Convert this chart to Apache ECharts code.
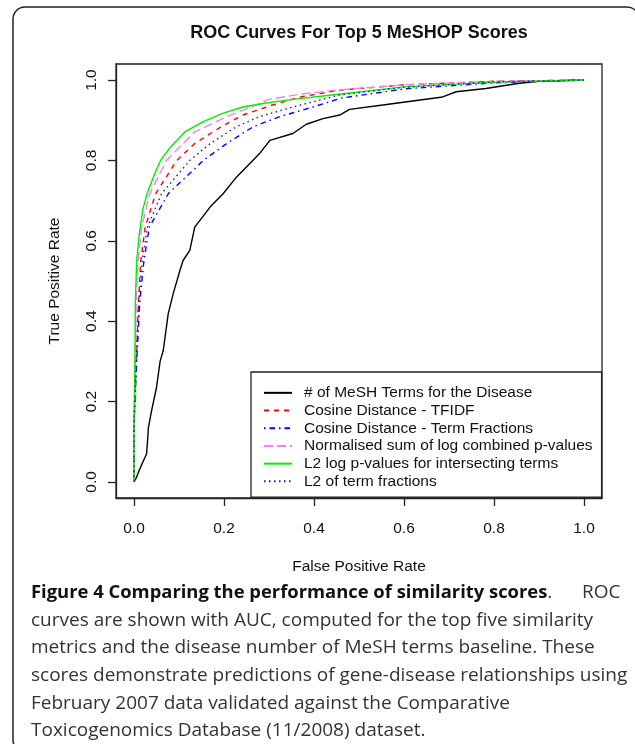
<!DOCTYPE html>
<html>
<head>
<meta charset="utf-8">
<script src="https://cdn.jsdelivr.net/npm/echarts@6.0.0/dist/echarts.min.js"></script>
<style>
  html, body { margin: 0; padding: 0; background: #fff; }
  #chart { width: 635px; height: 744px; }
</style>
</head>
<body>
<div id="chart"></div>
<script>
// ROC points: [false positive rate, true positive rate]
const meshTerms = [[0,0],[0.005,0.01],[0.012,0.03],[0.02,0.05],[0.028,0.07],[0.03,0.1],[0.032,0.135],
  [0.039,0.177],[0.05,0.235],[0.058,0.3],[0.065,0.327],[0.076,0.418],[0.087,0.468],[0.102,0.526],
  [0.109,0.551],[0.124,0.576],[0.135,0.634],[0.169,0.684],[0.198,0.717],[0.228,0.759],[0.257,0.792],
  [0.279,0.817],[0.302,0.85],[0.353,0.867],[0.383,0.89],[0.42,0.904],[0.457,0.913],[0.479,0.927],
  [0.553,0.938],[0.686,0.958],[0.716,0.971],[0.782,0.979],[0.856,0.992],[0.9,0.997],[1,1]]
const cosineTfidf = [[0,0],[0,0.14],[0.005,0.3],[0.01,0.45],[0.015,0.55],[0.025,0.634],[0.048,0.717],
  [0.095,0.8],[0.135,0.842],[0.194,0.884],[0.242,0.913],[0.308,0.938],[0.37,0.958],[0.457,0.975],
  [0.6,0.988],[0.8,0.997],[1,1]]
const cosineFractions = [[0,0],[0,0.14],[0.006,0.3],[0.013,0.45],[0.022,0.55],[0.034,0.634],[0.076,0.717],
  [0.154,0.8],[0.206,0.842],[0.265,0.884],[0.324,0.909],[0.398,0.933],[0.46,0.955],[0.6,0.978],
  [0.8,0.993],[1,1]]
const normalisedSum = [[0,0],[0,0.14],[0.003,0.3],[0.005,0.45],[0.009,0.55],[0.017,0.634],[0.035,0.717],
  [0.072,0.8],[0.135,0.871],[0.206,0.909],[0.265,0.935],[0.3,0.952],[0.37,0.965],[0.45,0.975],
  [0.6,0.988],[0.8,0.997],[1,1]]
const l2LogP = [[0,0],[0,0.14],[0.002,0.3],[0.003,0.45],[0.006,0.55],[0.012,0.62],[0.02,0.68],[0.03,0.72],
  [0.047,0.77],[0.059,0.8],[0.081,0.833],[0.113,0.871],[0.153,0.896],[0.197,0.917],[0.242,0.933],
  [0.294,0.943],[0.353,0.952],[0.45,0.964],[0.6,0.983],[0.8,0.995],[1,1]]
const l2Fractions = [[0,0],[0,0.14],[0.005,0.3],[0.011,0.45],[0.018,0.55],[0.03,0.634],[0.061,0.717],
  [0.124,0.8],[0.169,0.842],[0.228,0.884],[0.279,0.909],[0.353,0.933],[0.457,0.963],[0.6,0.982],
  [0.8,0.995],[1,1]]

const seriesNames = [
  '# of MeSH Terms for the Disease',
  'Cosine Distance - TFIDF',
  'Cosine Distance - Term Fractions',
  'Normalised sum of log combined p-values',
  'L2 log p-values for intersecting terms',
  'L2 of term fractions'
]
const ticks = [0, 0.2, 0.4, 0.6, 0.8, 1]

const styles = [
  { color: '#000000', type: 'solid' },
  { color: '#ff0000', type: [5, 5] },
  { color: '#0000ff', type: [1.5, 4, 5.5, 4] },
  { color: '#ee82ee', type: [9, 4] },
  { color: '#00ee00', type: 'solid' },
  { color: '#1c1c8c', type: [1.5, 3.5] }
]
const allData = [meshTerms, cosineTfidf, cosineFractions, normalisedSum, l2LogP, l2Fractions]

const font = 'Liberation Sans'
const myChart = echarts.init(document.getElementById('chart'))

const option = {
  animation: false,
  grid: {
    left: 116, top: 64, width: 486, height: 434,
    show: true, borderColor: '#222', borderWidth: 1.3
  },
  xAxis: {
    type: 'value', min: -0.04, max: 1.04,
    splitLine: { show: false },
    axisLine: { show: true, onZero: false, lineStyle: { color: '#222', width: 1.3 } },
    axisTick: { show: true, customValues: ticks, length: 8, lineStyle: { color: '#222', width: 1.3 } },
    axisLabel: {
      customValues: ticks, formatter: v => v.toFixed(1),
      fontFamily: font, fontSize: 15.5, color: '#111', margin: 23
    },
    name: 'False Positive Rate', nameLocation: 'middle', nameGap: 61,
    nameTextStyle: { fontFamily: font, fontSize: 15.5, color: '#111' }
  },
  yAxis: {
    type: 'value', min: -0.04, max: 1.04,
    splitLine: { show: false },
    axisLine: { show: true, onZero: false, lineStyle: { color: '#222', width: 1.3 } },
    axisTick: { show: true, customValues: ticks, length: 8, lineStyle: { color: '#222', width: 1.3 } },
    axisLabel: {
      customValues: ticks, formatter: v => v.toFixed(1), rotate: 90,
      fontFamily: font, fontSize: 15.5, color: '#111', margin: 16
    },
    name: 'True Positive Rate', nameLocation: 'middle', nameGap: 53,
    nameTextStyle: { fontFamily: font, fontSize: 15.5, color: '#111' }
  },
  legend: {
    orient: 'vertical', left: 251, top: 372,
    data: seriesNames,
    itemWidth: 28, itemHeight: 10, itemGap: 0,
    padding: [12, 9, 7, 12],
    borderColor: '#222', borderWidth: 1.3,
    itemStyle: { opacity: 0 },
    textStyle: { fontFamily: font, fontSize: 15.5, color: '#111', lineHeight: 17.7, padding: [0, 0, 0, 7] }
  },
  graphic: [
    {
      type: 'rect', silent: true,
      shape: { x: 13, y: 7, width: 626, height: 745, r: 12 },
      style: { fill: 'none', stroke: '#222', lineWidth: 1.5 }
    },
    {
      type: 'text', x: 359, y: 33,
      style: {
        text: 'ROC Curves For Top 5 MeSHOP Scores',
        font: 'bold 18px "Liberation Sans"', fill: '#111',
        align: 'center', verticalAlign: 'middle'
      }
    },
    {
      type: 'text', x: 31, y: 579,
      style: {
        text: '{b|Figure 4 Comparing the performance of similarity scores}.      ROC\n' +
          'curves are shown with AUC, computed for the top five similarity\n' +
          'metrics and the disease number of MeSH terms baseline. These\n' +
          'scores demonstrate predictions of gene-disease relationships using\n' +
          'February 2007 data validated against the Comparative\n' +
          'Toxicogenomics Database (11/2008) dataset.',
        font: '19px "Open Sans"', fill: '#333', lineHeight: 27.6,
        rich: {
          b: { fontFamily: 'Open Sans', fontWeight: 'bold', fontSize: 18.4, fill: '#111', lineHeight: 27.6 }
        }
      }
    }
  ],
  series: allData.map((d, i) => ({
    name: seriesNames[i],
    type: 'line',
    data: d,
    symbol: 'none',
    lineStyle: { color: styles[i].color, type: styles[i].type, width: 1.4 },
    itemStyle: { color: styles[i].color }
  }))
}
myChart.setOption(option)
</script>
</body>
</html>
